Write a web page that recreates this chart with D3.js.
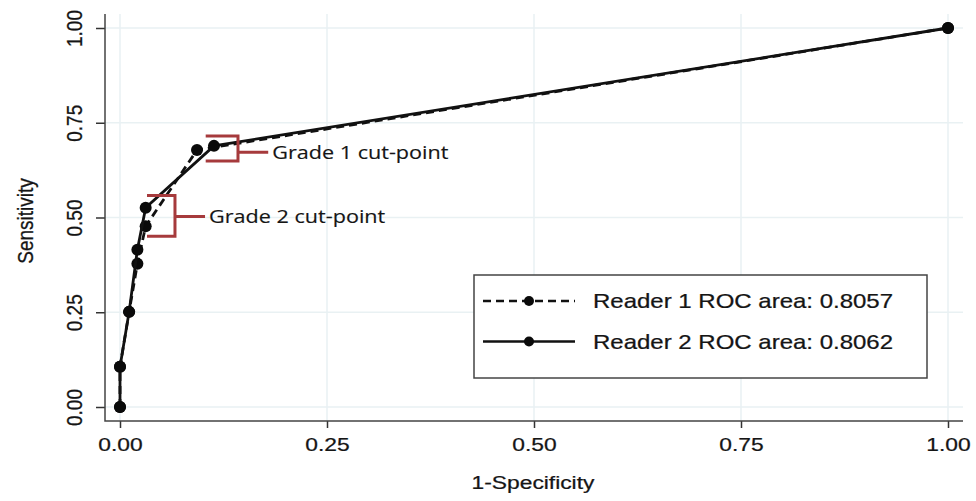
<!DOCTYPE html>
<html>
<head>
<meta charset="utf-8">
<script src="https://cdn.jsdelivr.net/npm/d3@7"></script>
<style>
  body { margin: 0; background: #fff; }
  svg { display: block; }
  text { font-family: "Liberation Sans", Arial, sans-serif; fill: #151515; stroke: #151515; stroke-width: 0.25px; }
</style>
</head>
<body>
<svg id="chart" width="976" height="501"></svg>
<script>
// ROC points, [1-specificity, sensitivity]
var reader1 = [[0, 0], [0, 0.106], [0.011, 0.251], [0.021, 0.378], [0.031, 0.477], [0.093, 0.678], [1, 1]];
var reader2 = [[0, 0], [0, 0.106], [0.011, 0.251], [0.021, 0.415], [0.031, 0.526], [0.1135, 0.689], [1, 1]];
var seriesLabels = ['Reader 1 ROC area: 0.8057', 'Reader 2 ROC area: 0.8062'];
var xTicks = [0, 0.25, 0.5, 0.75, 1];
var yTicks = [0, 0.25, 0.5, 0.75, 1];
// cut-point brackets in data units
var cutLabels = ['Grade 1 cut-point', 'Grade 2 cut-point'];
var cutX = [[0.1035, 0.1425, 0.179], [0.0326, 0.0664, 0.1027]];
var cutY = [[0.649, 0.715, 0.672], [0.4505, 0.558, 0.5026]];

var svg = d3.select('#chart'),
    plot = {left: 105, right: 963, top: 14, bottom: 421},
    stretch = 1.2,   // the original figure is widened horizontally
    x = d3.scaleLinear().domain([0, 1]).range([120, 948]),
    y = d3.scaleLinear().domain([0, 1]).range([407, 28]),
    fmt = d3.format('.2f');

// grid
svg.append('g').selectAll('line.h')
    .data(yTicks).enter().append('line')
    .attr('x1', plot.left).attr('x2', plot.right)
    .attr('y1', function(d) { return y(d); })
    .attr('y2', function(d) { return y(d); })
    .attr('stroke', '#e9f1f3').attr('stroke-width', 1.5);
svg.append('g').selectAll('line.v')
    .data(xTicks).enter().append('line')
    .attr('x1', function(d) { return x(d); })
    .attr('x2', function(d) { return x(d); })
    .attr('y1', plot.top).attr('y2', plot.bottom)
    .attr('stroke', '#e9f1f3').attr('stroke-width', 1.5);

// axes
var xAxis = svg.append('g')
    .attr('transform', 'translate(0,' + plot.bottom + ')')
    .call(d3.axisBottom(x).tickValues(xTicks).tickFormat(fmt).tickSize(7).tickSizeOuter(0));
xAxis.select('.domain').remove();
xAxis.selectAll('.tick line').attr('stroke', '#333').attr('stroke-width', 1.5);
xAxis.selectAll('.tick text')
    .attr('y', null).attr('dy', null)
    .attr('transform', 'translate(0,30) scale(' + stretch + ',1)')
    .style('font-size', '19px').attr('fill', '#151515');

var yAxis = svg.append('g')
    .attr('transform', 'translate(' + plot.left + ',0)')
    .call(d3.axisLeft(y).tickValues(yTicks).tickFormat(fmt).tickSize(9).tickSizeOuter(0));
yAxis.select('.domain').remove();
yAxis.selectAll('.tick line').attr('stroke', '#333').attr('stroke-width', 1.5);
yAxis.selectAll('.tick text')
    .attr('x', null).attr('dy', null)
    .attr('text-anchor', 'middle')
    .attr('transform', 'translate(-23,0) scale(' + stretch + ',1) rotate(-90)')
    .style('font-size', '19px').attr('fill', '#151515');

svg.append('path')
    .attr('d', 'M' + plot.left + ',' + plot.top + 'V' + plot.bottom + 'H' + plot.right)
    .attr('fill', 'none').attr('stroke', '#444').attr('stroke-width', 1.5);

svg.append('text')
    .attr('transform', 'translate(' + (x(0.5) - 1) + ',489) scale(' + stretch + ',1)')
    .attr('text-anchor', 'middle').style('font-size', '19px')
    .text('1-Specificity');
svg.append('text')
    .attr('transform', 'translate(33,221) scale(' + stretch + ',1) rotate(-90)')
    .attr('text-anchor', 'middle').style('font-size', '19px')
    .text('Sensitivity');

// ROC curves
var line = d3.line()
    .x(function(d) { return x(d[0]); })
    .y(function(d) { return y(d[1]); });

var series = [
    {data: reader1, dash: '8,5'},
    {data: reader2, dash: null}
];
series.forEach(function(s) {
    svg.append('path')
        .datum(s.data)
        .attr('d', line)
        .attr('fill', 'none')
        .attr('stroke', '#111')
        .attr('stroke-width', 2.8)
        .attr('stroke-dasharray', s.dash);
    svg.append('g').selectAll('circle')
        .data(s.data).enter().append('circle')
        .attr('cx', function(d) { return x(d[0]); })
        .attr('cy', function(d) { return y(d[1]); })
        .attr('r', 6)
        .attr('fill', '#0a0a0a');
});

// cut-point brackets
cutLabels.forEach(function(label, i) {
    var xs = cutX[i], ys = cutY[i];
    svg.append('path')
        .attr('d', 'M' + x(xs[0]) + ',' + y(ys[1]) + 'H' + x(xs[1]) + 'V' + y(ys[0]) + 'H' + x(xs[0]) +
                   'M' + x(xs[1]) + ',' + y(ys[2]) + 'H' + x(xs[2]))
        .attr('fill', 'none')
        .attr('stroke', '#a63a3c')
        .attr('stroke-width', 3);
    svg.append('text')
        .attr('transform', 'translate(' + (x(xs[2]) + 4) + ',' + y(ys[2]) + ') scale(' + stretch + ',1)')
        .attr('dy', '0.36em')
        .style('font-family', '"Open Sans", sans-serif')
        .style('font-size', '18px')
        .style('stroke-width', '0.15px')
        .attr('fill', '#2a2a2a')
        .text(label);
});

// legend
var legend = svg.append('g');
legend.append('rect')
    .attr('x', 474).attr('y', 275).attr('width', 453).attr('height', 103)
    .attr('fill', '#fff').attr('stroke', '#444').attr('stroke-width', 1.5);
var items = legend.selectAll('g.item')
    .data(series).enter().append('g')
    .attr('transform', function(d, i) { return 'translate(483,' + (301 + i * 40.5) + ')'; });
items.append('line')
    .attr('x1', 0).attr('x2', 92)
    .attr('stroke', '#111').attr('stroke-width', 2.6)
    .attr('stroke-dasharray', function(d) { return d.dash; });
items.append('circle')
    .attr('cx', 46).attr('r', 5).attr('fill', '#0a0a0a');
items.append('text')
    .attr('transform', 'translate(110,0) scale(' + stretch + ',1)')
    .attr('dy', '0.36em')
    .style('font-size', '20px')
    .text(function(d, i) { return seriesLabels[i]; });
</script>
</body>
</html>
